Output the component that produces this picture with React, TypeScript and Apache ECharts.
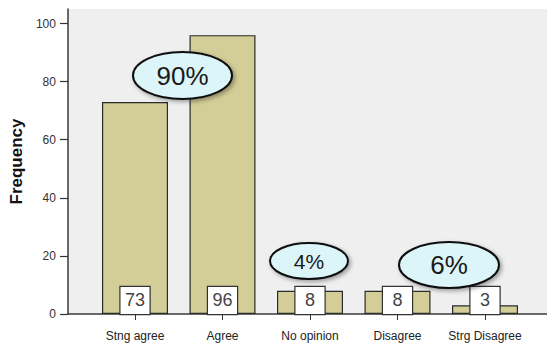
import React, { useEffect, useRef } from "react";
import * as echarts from "echarts";

const categories = ["Stng agree", "Agree", "No opinion", "Disagree", "Strg Disagree"];
const frequencies = [73, 96, 8, 8, 3];
const yTickValues = [0, 20, 40, 60, 80, 100];
const callouts = [
  { text: "90%", cx: 182.5, cy: 75.5, rx: 49.5, ry: 23.5, size: 26 },
  { text: "4%", cx: 309, cy: 261, rx: 39, ry: 18, size: 21 },
  { text: "6%", cx: 449, cy: 265, rx: 50, ry: 23, size: 26 },
];

const FONT = "'Liberation Sans', Arial, sans-serif";

export default function App() {
  const ref = useRef<HTMLDivElement>(null);
  useEffect(() => {
    if (!ref.current) return;
    const chart = echarts.init(ref.current, null, { renderer: "svg" });
    const graphics: any[] = [
      {
        type: "line",
        shape: { x1: 67, y1: 9, x2: 547, y2: 9 },
        style: { stroke: "#9a9a9a", lineWidth: 2, shadowColor: "rgba(0,0,0,0.15)", shadowBlur: 3, shadowOffsetY: 1 },
        z: 50,
      },
    ];
    callouts.forEach((c) => {
      graphics.push({
        type: "ellipse",
        shape: { cx: c.cx, cy: c.cy, rx: c.rx, ry: c.ry },
        style: {
          fill: "#dcf5f9",
          stroke: "#111",
          lineWidth: 2,
          shadowColor: "rgba(0,0,0,0.35)",
          shadowBlur: 4,
          shadowOffsetX: 2,
          shadowOffsetY: 2,
        },
        z: 100,
      });
      graphics.push({
        type: "text",
        x: c.cx,
        y: c.cy,
        style: {
          text: c.text,
          fontSize: c.size,
          fontFamily: FONT,
          fill: "#1a1a1a",
          align: "center",
          verticalAlign: "middle",
        },
        z: 101,
      });
    });
    chart.setOption({
      animation: false,
      textStyle: { fontFamily: FONT },
      grid: [
        { left: 67, right: 0, top: 9, bottom: 29, show: true, backgroundColor: "#efefef", borderWidth: 0 },
        { left: 91.25, width: 437.5, top: 9, bottom: 29 },
      ],
      xAxis: [
        {
          gridIndex: 0,
          type: "value",
          min: 0,
          max: 1,
          axisLine: { show: true, onZero: false, lineStyle: { color: "#3a3a3a", width: 1.5 } },
          axisTick: { show: false },
          axisLabel: { show: false },
          splitLine: { show: false },
        },
        {
          gridIndex: 1,
          type: "category",
          data: categories,
          axisLine: { show: false },
          axisTick: { show: true, alignWithLabel: true, length: 6, lineStyle: { color: "#333", width: 1 } },
          axisLabel: { color: "#222", fontSize: 12, margin: 16, interval: 0, fontFamily: FONT },
          splitLine: { show: false },
        },
      ],
      yAxis: [
        {
          gridIndex: 0,
          type: "value",
          min: 0,
          max: 105,
          name: "Frequency",
          nameLocation: "middle",
          nameGap: 40,
          nameTextStyle: { fontSize: 17, fontWeight: "bold", color: "#111", fontFamily: FONT },
          axisLine: { show: true, lineStyle: { color: "#3a3a3a", width: 1.5 } },
          axisTick: { show: true, length: 8, customValues: yTickValues, lineStyle: { color: "#333", width: 1.2 } },
          axisLabel: { customValues: yTickValues, color: "#333", fontSize: 12, margin: 12, fontFamily: FONT },
          splitLine: { show: false },
        },
        {
          gridIndex: 1,
          type: "value",
          min: 0,
          max: 105,
          show: false,
          splitLine: { show: false },
        },
      ],
      series: [
        {
          type: "bar",
          xAxisIndex: 1,
          yAxisIndex: 1,
          data: frequencies,
          barWidth: 66,
          itemStyle: { color: "#d3cd97", borderColor: "#2b2b2b", borderWidth: 1.2 },
          label: {
            show: true,
            position: "insideBottom",
            distance: 0,
            formatter: "{c}",
            backgroundColor: "#ffffff",
            borderColor: "#333",
            borderWidth: 1.2,
            width: 29,
            height: 27,
            lineHeight: 29,
            padding: 0,
            align: "center",
            fontSize: 18,
            color: "#444",
            fontFamily: FONT,
          },
        },
      ],
      graphic: graphics,
    });
    return () => chart.dispose();
  }, []);
  return (
    <div
      ref={ref}
      style={{ position: "fixed", left: 0, top: 0, width: 547, height: 343, background: "#fff" }}
    />
  );
}
